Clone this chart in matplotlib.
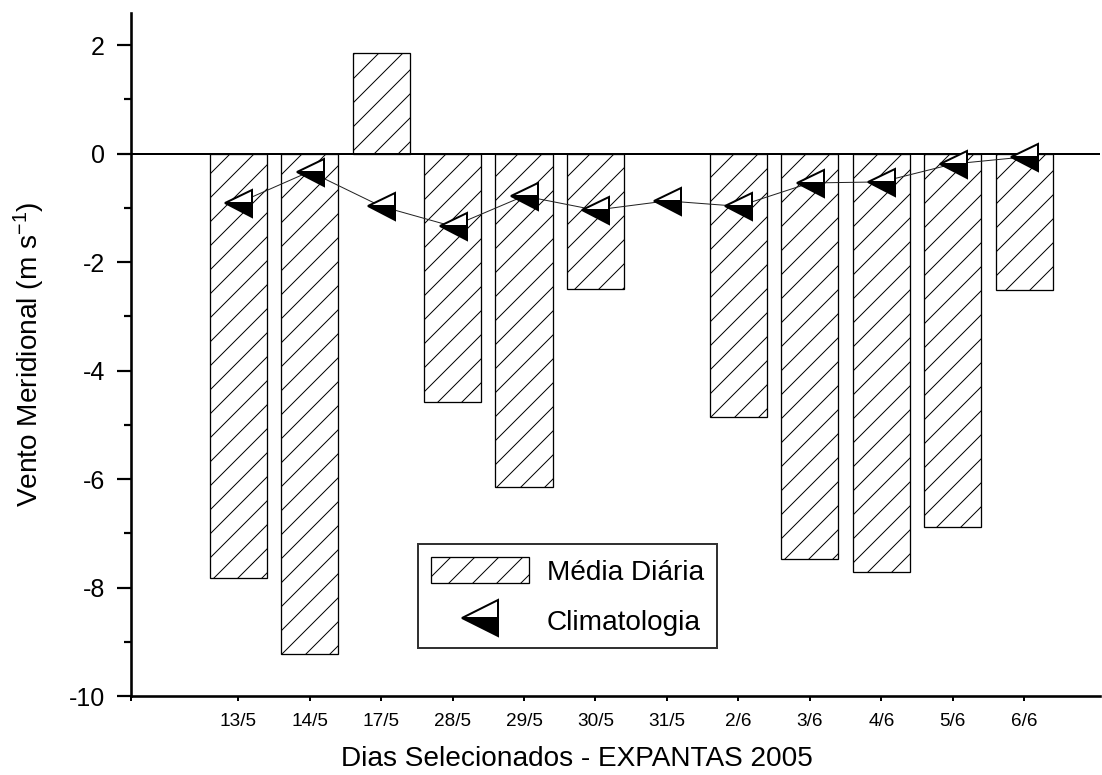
import numpy as np
import matplotlib
matplotlib.use("Agg")
from matplotlib import pyplot as plt
from matplotlib.lines import Line2D
from matplotlib.patches import Patch

plt.rcParams['font.family'] = ['Liberation Sans', 'DejaVu Sans']
plt.rcParams['mathtext.fontset'] = 'custom'
plt.rcParams['mathtext.rm'] = 'Liberation Sans'
plt.rcParams['mathtext.it'] = 'Liberation Sans:italic'
plt.rcParams['axes.unicode_minus'] = False
plt.rcParams['hatch.linewidth'] = 1.0

# dias selecionados (EXPANTAS 2005) - vento meridional em m/s
dias = ['13/5', '14/5', '17/5', '28/5', '29/5', '30/5', '31/5', '2/6', '3/6', '4/6', '5/6', '6/6']
mediaDiaria = [-7.82, -9.22, 1.85, -4.58, -6.15, -2.50, np.nan, -4.86, -7.48, -7.72, -6.88, -2.52]
climatologia = [-0.91, -0.33, -0.97, -1.34, -0.78, -1.04, -0.87, -0.97, -0.54, -0.52, -0.19, -0.06]

# dpi 72 -> 1pt = 1px, figure is 1102x775
fig = plt.figure(figsize=(1102/72, 775/72), dpi=72)
ax = fig.add_axes([131/1102, 1-696/775, 969/1102, (696-12.7)/775])

markerStyle = dict(marker='<', fillstyle='bottom', markerfacecolor='black',
                   markerfacecoloralt='white', markeredgecolor='black', markeredgewidth=2)

x = np.arange(len(dias))
ax.bar(x, mediaDiaria, width=0.8, facecolor='white', edgecolor='black',
       linewidth=1.3, hatch='/', zorder=2)
ax.axhline(0, color='black', linewidth=2, zorder=3)
ax.plot(x, climatologia, color='#222222', linewidth=1, zorder=4)
ax.plot(x, climatologia, linestyle='none', markersize=27, zorder=5, **markerStyle)

ax.set_xlim(-1.5, 12.06)
ax.set_ylim(-10, 2.6)

for s in ['top', 'right']:
  ax.spines[s].set_visible(False)
ax.spines['left'].set_linewidth(2.6)
ax.spines['bottom'].set_linewidth(2.6)

ax.set_yticks(np.arange(-10, 3, 2))
ax.set_yticks(np.arange(-9, 3, 2), minor=True)
ax.tick_params(axis='y', which='major', length=14, width=2.2, pad=12, labelsize=25)
ax.tick_params(axis='y', which='minor', length=7, width=2.2)

ax.set_xticks([-1.5] + list(x))
ax.set_xticklabels([''] + dias)
ax.tick_params(axis='x', which='major', length=5, width=2, pad=12, labelsize=19)

ax.set_ylabel('Vento Meridional (m s$^{-1}$)', fontsize=28, va='center')
ax.yaxis.set_label_coords(-0.105, 0.5)
ax.set_xlabel('Dias Selecionados - EXPANTAS 2005', fontsize=28, va='center')
ax.xaxis.set_label_coords((577-131)/969, -63/683.3)

handles = [Patch(facecolor='white', edgecolor='black', hatch='/', linewidth=1.3),
           Line2D([], [], linestyle='none', markersize=27, **markerStyle)]
leg = ax.legend(handles, ['Média Diária', 'Climatologia'], loc='upper left',
                bbox_to_anchor=(418/1102, 1-544/775), bbox_transform=fig.transFigure,
                borderaxespad=0, fontsize=28, frameon=True, fancybox=False,
                handlelength=3.5, handleheight=1.1, handletextpad=0.65,
                labelspacing=0.75, borderpad=0.45, markerscale=1.35)
leg.get_frame().set_edgecolor('black')
leg.get_frame().set_linewidth(2)

fig.savefig('out.png', dpi=72)
